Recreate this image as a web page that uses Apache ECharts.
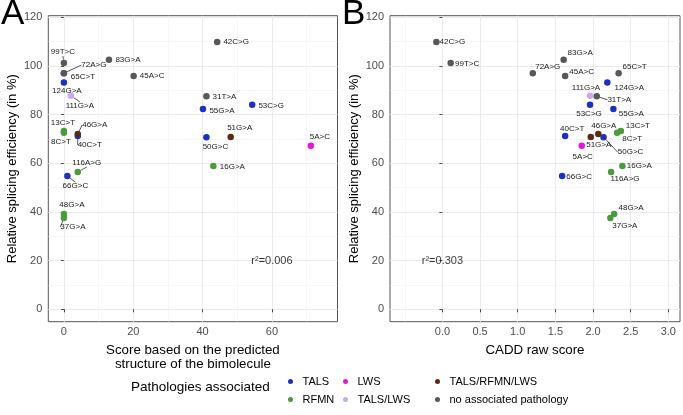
<!DOCTYPE html>
<html><head><meta charset="utf-8">
<script src="https://cdn.jsdelivr.net/npm/echarts@6/dist/echarts.min.js"></script>
<style>html,body{margin:0;padding:0;background:#fff}#c{width:683px;height:415px}</style>
</head><body><div id="c"></div><script>
// ---------- data ----------
const mutations = ['42C>G','99T>C','83G>A','72A>G','45A>C','65C>T','31T>A','124G>A','111G>A','53C>G','55G>A','40C>T','46G>A','51G>A','50G>C','13C>T','8C>T','5A>C','16G>A','116A>G','66G>C','48G>A','37G>A'];
const pathologies = ['no associated pathology','no associated pathology','no associated pathology','no associated pathology','no associated pathology','no associated pathology','no associated pathology','TALS','TALS/LWS','TALS','TALS','TALS','TALS/RFMN/LWS','TALS/RFMN/LWS','TALS','RFMN','RFMN','LWS','RFMN','RFMN','TALS','RFMN','RFMN'];
const efficiency = [109.8,101.2,102.5,97.0,95.8,97.0,87.5,93.2,87.7,84.0,82.3,71.2,72.0,70.8,70.7,73.2,72.5,67.2,58.9,56.4,54.7,39.1,37.5];
const structureScore = [44.2,0,13.0,0,20.1,0,41.1,0,2.0,54.3,40.1,4.0,4.0,48.1,41.1,0,0,71.2,43.1,4.0,1.0,0,0];
const caddScore = [-0.08,0.11,1.61,1.20,1.63,2.34,2.05,2.19,1.96,1.96,2.27,1.63,2.07,1.97,2.14,2.37,2.32,1.85,2.39,2.24,1.59,2.28,2.23];
const categories = ['TALS','RFMN','LWS','TALS/LWS','TALS/RFMN/LWS','no associated pathology'];
const yTicks = [0,20,40,60,80,100,120];
const yMinor = [10,30,50,70,90,110];
const xTicksA = [0,20,40,60];
const xMinorA = [10,30,50,70];
const xTicksB = [0,0.5,1,1.5,2,2.5,3];
const xMinorB = [-0.5];
const r2Labels = ['r²=0.006','r²=0.303'];
const r2X = [60,0];
const r2Y = [20,20];

// ---------- styles / layout ----------
const colors = {'TALS':'#1c30c2','RFMN':'#4b9a3b','LWS':'#e316e3','TALS/LWS':'#c8a9f2','TALS/RFMN/LWS':'#5b2a14','no associated pathology':'#585858'};
// label offsets in pixels [dx, dy, drawSegment]
const offA = {'42C>G':[19,0],'99T>C':[-1,-11,1],'83G>A':[19,0],'72A>G':[30,-8,1],'45A>C':[18.5,0],'65C>T':[19,4],'31T>A':[18,0.5],'124G>A':[3,8],'111G>A':[9,10,1],'53C>G':[19,0.5],'55G>A':[19,2],'40C>T':[12,9,1],'46G>A':[17,-9,1],'51G>A':[9,-9],'50G>C':[9,10],'13C>T':[-1,-8.5],'8C>T':[-3,9],'5A>C':[9,-9],'16G>A':[19,0.5],'116A>G':[9,-9,1],'66G>C':[8,10,1],'48G>A':[8,-9],'37G>A':[9,9,1]};
const offB = {'42C>G':[16,0],'99T>C':[16.5,1],'83G>A':[16.5,-6.5],'72A>G':[15,-6],'45A>C':[16.5,-4],'65C>T':[16,-6.5],'31T>A':[22.5,3.5,1],'124G>A':[22,5],'111G>A':[-4,-8],'53C>G':[-1,8.5],'55G>A':[18,4.5],'40C>T':[7,-7],'46G>A':[5.5,-8],'51G>A':[8,8],'50G>C':[27,15,1],'13C>T':[17,-5],'8C>T':[15,6.5],'5A>C':[1,11.5],'16G>A':[17,0],'116A>G':[14,7],'66G>C':[17,0.5],'48G>A':[17,-6.5],'37G>A':[14.5,7.5]};
const FONT = 'Liberation Sans, Arial, Helvetica, sans-serif';
const tickCol = '#4d4d4d';
const gridCol = '#ebebeb';

function mainAxis(grid, min, max, ticks, fmt, extra){
  return Object.assign({
    gridIndex:grid, type:'value', min:min, max:max,
    axisLine:{show:false},
    axisTick:{show:true, customValues:ticks, length:3, lineStyle:{color:tickCol, width:1}},
    axisLabel:{customValues:ticks, color:tickCol, fontSize:11, fontFamily:FONT, formatter:fmt},
    splitLine:{show:true, lineStyle:{color:gridCol, width:1.1}}
  }, extra);
}
function minorAxis(grid, min, max, ticks){
  return {gridIndex:grid, type:'value', min:min, max:max,
    axisLine:{show:false}, axisTick:{show:false, customValues:ticks}, axisLabel:{show:false},
    splitLine:{show:true, lineStyle:{color:'#f0f0f0', width:0.6}}};
}
const yName = 'Relative splicing efficiency (in %)';
function yMain(grid){
  const a = mainAxis(grid, -5.1, 120.6, yTicks, v=>String(v), {name:yName, nameLocation:'middle', nameGap:29, nameTextStyle:{fontSize:13, color:'#000', fontFamily:FONT}});
  a.axisLabel.margin = 6;
  return a;
}
const xTitleStyle = {fontSize:13.3, color:'#000', fontFamily:FONT, lineHeight:14.5};
const xAxes = [
  mainAxis(0, -4.5, 78.9, xTicksA, v=>String(v), {name:'Score based on the predicted\nstructure of the bimolecule', nameLocation:'middle', nameGap:18, nameTextStyle:xTitleStyle}),
  minorAxis(0, -4.5, 78.9, xMinorA),
  mainAxis(1, -0.696, 3.155, xTicksB, v=>v.toFixed(1), {name:'CADD raw score', nameLocation:'middle', nameGap:18, nameTextStyle:xTitleStyle}),
  minorAxis(1, -0.696, 3.155, xMinorB)
];
xAxes[0].axisLabel.margin = 5; xAxes[2].axisLabel.margin = 5;
const yAxes = [yMain(0), minorAxis(0,-5.1,120.6,yMinor), yMain(1), minorAxis(1,-5.1,120.6,yMinor)];

const series = [];
[0,1].forEach(function(p){
  const xs = p===0 ? structureScore : caddScore;
  const offs = p===0 ? offA : offB;
  categories.forEach(function(cat){
    const data = [];
    mutations.forEach(function(m,i){
      if (pathologies[i] !== cat) return;
      data.push({name:m, value:[xs[i], efficiency[i]], labelLine:{show: !!(offs[m] && offs[m][2])}});
    });
    series.push({
      type:'scatter', name:cat, xAxisIndex:p*2, yAxisIndex:p*2, data:data,
      symbolSize:6.5, itemStyle:{color:colors[cat], opacity:1},
      label:{show:true, position:'inside', formatter:'{b}', fontSize:8, color:'#1a1a1a', fontFamily:FONT},
      labelLine:{show:false, lineStyle:{color:'#111', width:0.7}},
      labelLayout:function(prm){ const o = offs[prm.text] || [0,0]; return {dx:o[0], dy:o[1]}; },
      emphasis:{disabled:true}, z:3
    });
  });
  series.push({
    type:'scatter', name:'r2', xAxisIndex:p*2, yAxisIndex:p*2, silent:true,
    data:[{name:r2Labels[p], value:[r2X[p], r2Y[p]]}], symbolSize:0,
    label:{show:true, position:'inside', formatter:'{b}', fontSize:11, color:'#000', fontFamily:FONT}
  });
});

function legend(left, items){
  return {orient:'vertical', left:left, top:371, itemGap:7, itemWidth:14, itemHeight:5,
    icon:'circle', data:items, selectedMode:false,
    textStyle:{fontSize:11, color:'#000', fontFamily:FONT, padding:[0,0,0,0]}};
}

const chart = echarts.init(document.getElementById('c'), null, {renderer:'canvas'});
chart.setOption({
  animation:false,
  backgroundColor:'#fff',
  textStyle:{fontFamily:FONT},
  grid:[
    {left:48.3, top:15.7, width:289.2, height:306, show:true, borderColor:'#555', borderWidth:1, backgroundColor:'transparent'},
    {left:390, top:15.7, width:290, height:306, show:true, borderColor:'#555', borderWidth:1, backgroundColor:'transparent'}
  ],
  xAxis:xAxes, yAxis:yAxes, series:series,
  legend:[legend(283,['TALS','RFMN']), legend(338,['LWS','TALS/LWS']), legend(430,['TALS/RFMN/LWS','no associated pathology'])],
  graphic:[
    {type:'text', left:1, top:-3, style:{text:'A', fontSize:35, fill:'#000', fontFamily:FONT}},
    {type:'text', left:342, top:-3, style:{text:'B', fontSize:35, fill:'#000', fontFamily:FONT}},
    {type:'text', left:131, top:380, style:{text:'Pathologies associated', fontSize:13.5, fill:'#000', fontFamily:FONT}}
  ]
});
</script></body></html>
